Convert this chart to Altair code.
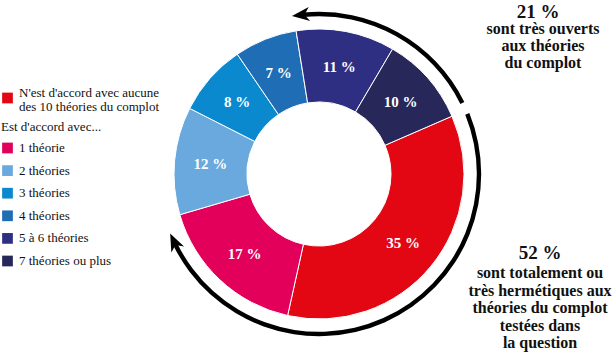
import math
import altair as alt
import pandas as pd

# ---------------- data ----------------
categories = [
    "N'est d'accord avec aucune des 10 théories du complot",
    "1 théorie",
    "2 théories",
    "3 théories",
    "4 théories",
    "5 à 6 théories",
    "7 théories ou plus",
]
legend_labels = [
    "N'est d'accord avec aucune\ndes 10 théories du complot",
    "1 théorie",
    "2 théories",
    "3 théories",
    "4 théories",
    "5 à 6 théories",
    "7 théories ou plus",
]
values = [35, 17, 12, 8, 7, 11, 10]
colors = ["#e30613", "#e2005a", "#69a9dd", "#0a89cf", "#1f6db4", "#2e2f82", "#27275a"]
legend_header = "Est d'accord avec..."

group_pcts = ["52 %", "21 %"]
group_texts = [
    "sont totalement ou\ntrès hermétiques aux\nthéories du complot\ntestées dans\nla question",
    "sont très ouverts\naux théories\ndu complot",
]
# arrow annotations, in percent units along the ring
arrow_from = [0.4, 99.2]
arrow_tip = [50.5, 78.8]
arrow_dir = [1, -1]

# ---------------- layout constants ----------------
CX, CY = 319, 174
R_IN, R_OUT = 72, 145
R_ARROW = 160
OFFSET_DEG = 66.5
OFF = math.radians(OFFSET_DEG)
SERIF = "Liberation Serif"

tscale = alt.Scale(domain=[0, 100], range=[OFF, OFF + 2 * math.pi], zero=False)
cscale = alt.Scale(domain=categories, range=colors)

cum = []
s = 0
for v in values:
    cum.append(s)
    s += v
df = pd.DataFrame({
    "cat": categories,
    "value": values,
    "start": cum,
    "end": [c + v for c, v in zip(cum, values)],
    "mid": [c + v / 2 for c, v in zip(cum, values)],
    "label": [f"{v} %" for v in values],
})

arcs = alt.Chart(df).mark_arc(
    innerRadius=R_IN, outerRadius=R_OUT, stroke="white", strokeWidth=1
).encode(
    theta=alt.Theta("start:Q", scale=tscale, stack=None),
    theta2="end:Q",
    color=alt.Color("cat:N", scale=cscale, legend=None),
    x=alt.value(CX),
    y=alt.value(CY),
)

labels = alt.Chart(df).mark_text(
    radius=109, font=SERIF, fontWeight="bold", fontSize=15, color="white",
    align="center", baseline="middle",
).encode(
    theta=alt.Theta("mid:Q", scale=tscale, stack=None),
    text="label:N",
    x=alt.value(CX),
    y=alt.value(CY),
)

# arrows
adf = pd.DataFrame({"frm": arrow_from, "tip": arrow_tip, "dir": arrow_dir})
adf["body_end"] = adf["tip"] - adf["dir"] * 1.2
adf["a0"] = adf[["frm", "body_end"]].min(axis=1)
adf["a1"] = adf[["frm", "body_end"]].max(axis=1)

arrow_arcs = alt.Chart(adf).mark_arc(
    innerRadius=R_ARROW - 2.2, outerRadius=R_ARROW + 2.2, color="black"
).encode(
    theta=alt.Theta("a0:Q", scale=tscale, stack=None),
    theta2="a1:Q",
    x=alt.value(CX),
    y=alt.value(CY),
)

arrow_path = "M0,-1 L0.72,0.8 L0,0.3 L-0.72,0.8 Z"
heads = alt.Chart(adf).transform_calculate(
    hc="datum.tip - datum.dir * 1.0",
    ang=f"{OFF} + datum.hc / 100 * 2 * PI",
    px=f"{CX} + {R_ARROW} * sin(datum.ang)",
    py=f"{CY} - {R_ARROW} * cos(datum.ang)",
    rot="datum.ang * 180 / PI + datum.dir * 90",
).mark_point(
    shape=arrow_path, filled=True, color="black", size=380, opacity=1, strokeWidth=0
).encode(
    x=alt.X("px:Q", scale=None, axis=None),
    y=alt.Y("py:Q", scale=None, axis=None),
    angle=alt.Angle("rot:Q", scale=None),
)

# legend
ldf = pd.DataFrame({"cat": categories, "lab": legend_labels})
first = ldf.iloc[[0]]
rest = ldf.iloc[1:]

leg_first_sq = alt.Chart(first).mark_square(size=115, opacity=1).encode(
    x=alt.value(7.5), y=alt.value(98),
    color=alt.Color("cat:N", scale=cscale, legend=None),
)
leg_first_tx = alt.Chart(first).mark_text(
    font=SERIF, fontSize=13, align="left", baseline="middle", lineBreak="\n",
    lineHeight=13.5, color="#111",
).encode(x=alt.value(19), y=alt.value(93), text="lab:N")

leg_header = alt.Chart(pd.DataFrame({"t": [legend_header]})).mark_text(
    font=SERIF, fontSize=13, align="left", baseline="middle", color="#111"
).encode(x=alt.value(1), y=alt.value(127), text="t:N")

yscale = alt.Scale(type="point", domain=categories[1:], range=[148, 261], padding=0)
leg_sq = alt.Chart(rest).mark_square(size=115, opacity=1).encode(
    x=alt.value(7.5),
    y=alt.Y("cat:N", scale=yscale, axis=None),
    color=alt.Color("cat:N", scale=cscale, legend=None),
)
leg_tx = alt.Chart(rest).mark_text(
    font=SERIF, fontSize=13, align="left", baseline="middle", color="#111"
).encode(
    x=alt.value(19),
    y=alt.Y("cat:N", scale=yscale, axis=None),
    text="lab:N",
)

# right annotations
gdf = pd.DataFrame({"pct": group_pcts, "txt": group_texts})
pct52 = alt.Chart(gdf.iloc[[0]]).mark_text(
    font=SERIF, fontWeight="bold", fontSize=19, align="center", baseline="middle", color="#111"
).encode(x=alt.value(540), y=alt.value(253), text="pct:N")
txt52 = alt.Chart(gdf.iloc[[0]]).mark_text(
    font=SERIF, fontWeight="bold", fontSize=16, align="center", baseline="middle",
    lineBreak="\n", lineHeight=17.5, color="#111"
).encode(x=alt.value(540), y=alt.value(273), text="txt:N")
pct21 = alt.Chart(gdf.iloc[[1]]).mark_text(
    font=SERIF, fontWeight="bold", fontSize=19, align="center", baseline="middle", color="#111"
).encode(x=alt.value(538), y=alt.value(12), text="pct:N")
txt21 = alt.Chart(gdf.iloc[[1]]).mark_text(
    font=SERIF, fontWeight="bold", fontSize=16, align="center", baseline="middle",
    lineBreak="\n", lineHeight=16.8, color="#111"
).encode(x=alt.value(543), y=alt.value(29), text="txt:N")

chart = alt.layer(
    arcs, labels, arrow_arcs, heads,
    leg_first_sq, leg_first_tx, leg_header, leg_sq, leg_tx,
    pct52, txt52, pct21, txt21,
).resolve_scale(
    x="independent", y="independent"
).properties(
    width=615, height=353, padding=0, autosize="none", background="white"
).configure_view(stroke=None)

chart.save("out.html", embed_options={"renderer": "svg", "actions": False})
